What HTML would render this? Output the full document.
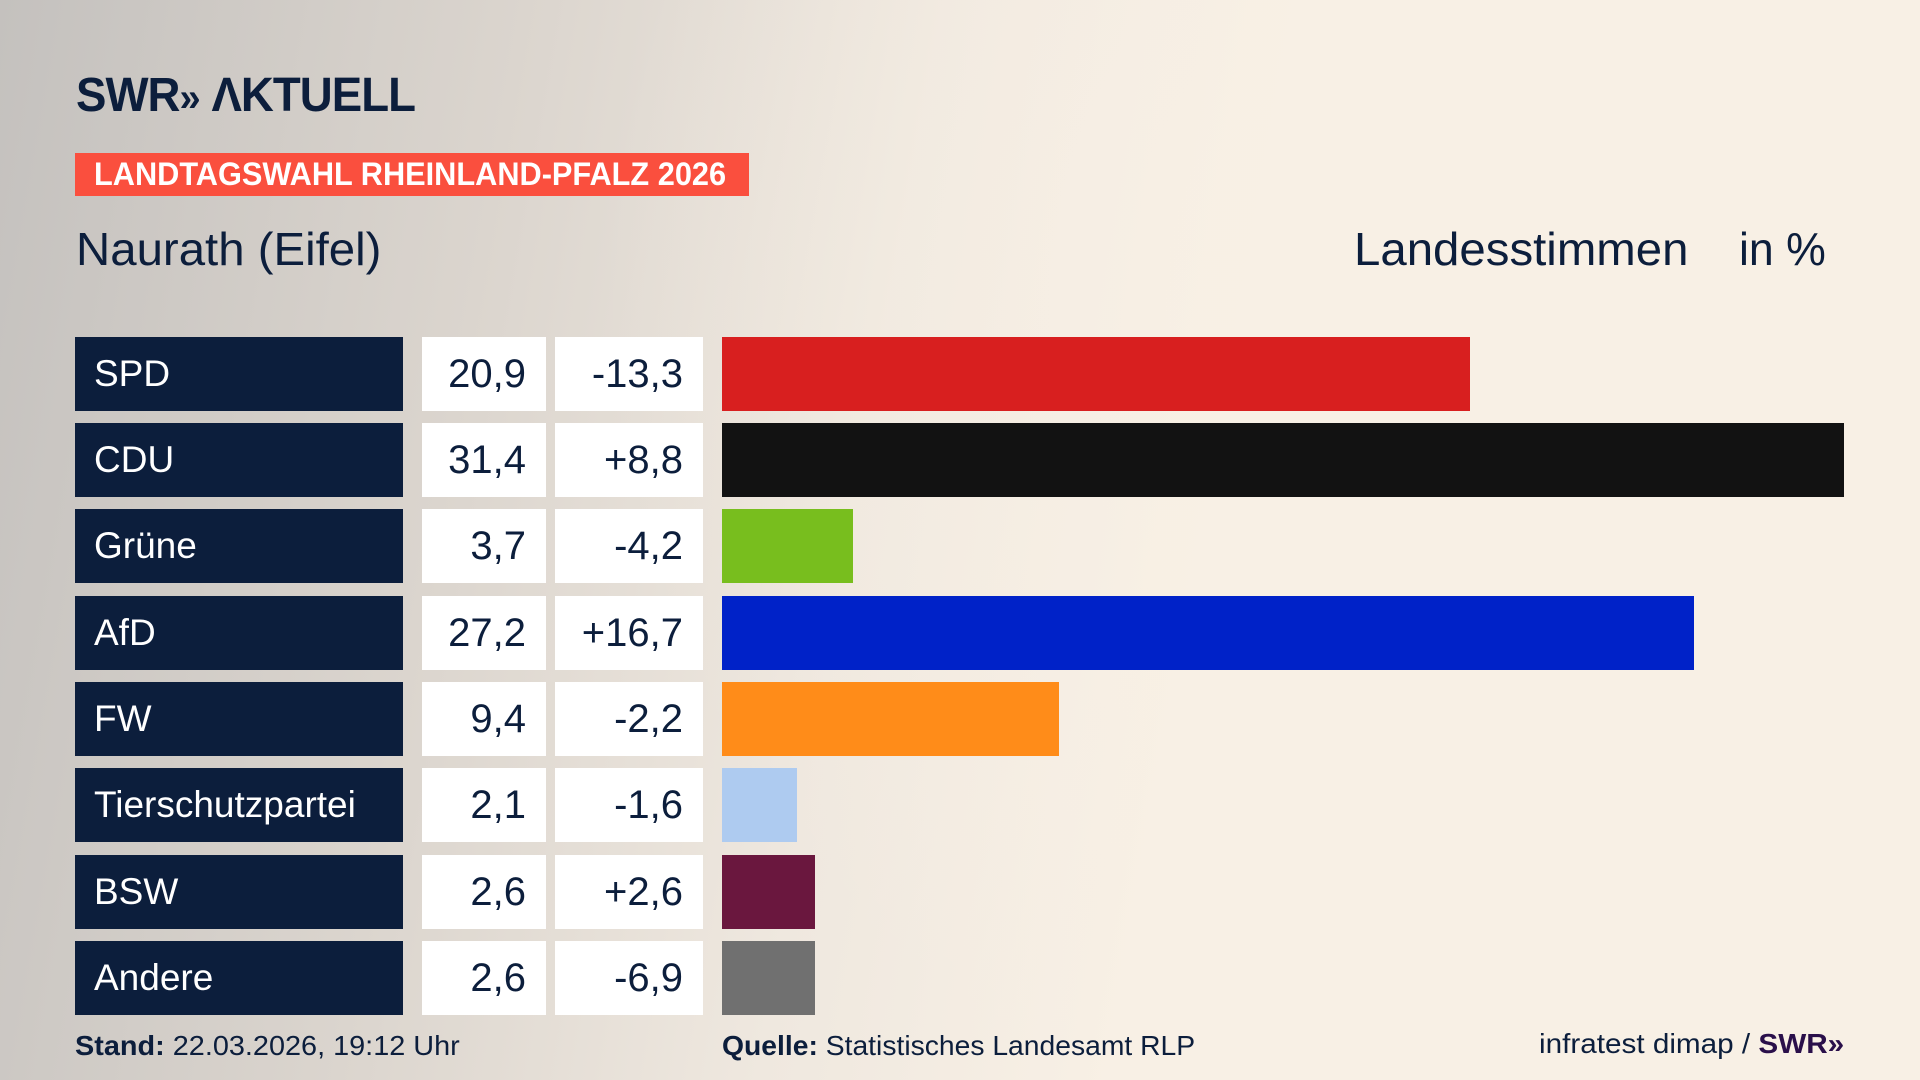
<!DOCTYPE html>
<html><head><meta charset="utf-8"><style>
*{margin:0;padding:0;box-sizing:border-box}
body{width:1920px;height:1080px;overflow:hidden;position:relative;font-family:"Liberation Sans",sans-serif;color:#0c1e3c;
background:
radial-gradient(ellipse 900px 900px at 1500px 300px,#f8f0e5 0%,rgba(248,240,229,0) 100%),
linear-gradient(100deg,#c4c1be 0%,#dbd5ce 25%,#efe8df 45%,#f8f0e5 62%,#f8f0e5 100%);}
.a{position:absolute;white-space:nowrap}
.sx{display:inline-block;transform-origin:0 50%}
.lab{position:absolute;left:75px;width:328px;height:74px;background:#0c1e3c;color:#fff;font-size:37px;line-height:74px;padding-left:19px}
.v{position:absolute;left:422px;width:124px;height:74px;background:#fff;font-size:40px;line-height:74px;text-align:right;padding-right:20px}
.d{position:absolute;left:555px;width:148px;height:74px;background:#fff;font-size:40px;line-height:74px;text-align:right;padding-right:20px}
.b{position:absolute;left:722px;height:74px}
</style></head><body>
<div class="a" style="left:76px;top:68px;font-size:48px;font-weight:bold;letter-spacing:-1px"><span class="sx" style="transform:scaleX(0.95)">SWR<span style="font-size:40px">»</span> ΛKTUELL</span></div>
<div class="a" style="left:75px;top:153px;width:674px;height:43px;background:#fa4f3e"></div>
<div class="a" style="left:94px;top:153px;height:43px;line-height:43px;font-size:32px;font-weight:bold;color:#fff"><span class="sx" style="transform:scaleX(0.96)">LANDTAGSWAHL RHEINLAND-PFALZ 2026</span></div>
<div class="a" style="left:76px;top:222px;font-size:46px"><span class="sx" style="transform:scaleX(1.03)">Naurath (Eifel)</span></div>
<div class="a" style="left:1354px;top:222px;font-size:46px"><span class="sx" style="transform:scaleX(1.03)">Landesstimmen</span></div>
<div class="a" style="left:1739px;top:222px;font-size:46px"><span class="sx" style="transform:scaleX(0.97)">in %</span></div>

<div class="lab" style="top:337px">SPD</div><div class="v" style="top:337px">20,9</div><div class="d" style="top:337px">-13,3</div><div class="b" style="top:337px;width:748px;background:#d81f1f"></div>
<div class="lab" style="top:423px">CDU</div><div class="v" style="top:423px">31,4</div><div class="d" style="top:423px">+8,8</div><div class="b" style="top:423px;width:1122px;background:#121212"></div>
<div class="lab" style="top:509px">Grüne</div><div class="v" style="top:509px">3,7</div><div class="d" style="top:509px">-4,2</div><div class="b" style="top:509px;width:131px;background:#78be1e"></div>
<div class="lab" style="top:596px">AfD</div><div class="v" style="top:596px">27,2</div><div class="d" style="top:596px">+16,7</div><div class="b" style="top:596px;width:972px;background:#0022c8"></div>
<div class="lab" style="top:682px">FW</div><div class="v" style="top:682px">9,4</div><div class="d" style="top:682px">-2,2</div><div class="b" style="top:682px;width:337px;background:#ff8c19"></div>
<div class="lab" style="top:768px">Tierschutzpartei</div><div class="v" style="top:768px">2,1</div><div class="d" style="top:768px">-1,6</div><div class="b" style="top:768px;width:75px;background:#aecbf0"></div>
<div class="lab" style="top:855px">BSW</div><div class="v" style="top:855px">2,6</div><div class="d" style="top:855px">+2,6</div><div class="b" style="top:855px;width:93px;background:#6a173e"></div>
<div class="lab" style="top:941px">Andere</div><div class="v" style="top:941px">2,6</div><div class="d" style="top:941px">-6,9</div><div class="b" style="top:941px;width:93px;background:#707070"></div>

<div class="a" style="left:75px;top:1030px;font-size:28px"><span class="sx" style="transform:scaleX(1.03)"><b>Stand:</b> 22.03.2026, 19:12 Uhr</span></div>
<div class="a" style="left:722px;top:1030px;font-size:28px"><span class="sx" style="transform:scaleX(1.01)"><b>Quelle:</b> Statistisches Landesamt RLP</span></div>
<div class="a" style="left:1539px;top:1028px;font-size:28px"><span class="sx" style="transform:scaleX(1.06)">infratest dimap / <b style="color:#2a0f4a">SWR»</b></span></div>
</body></html>
